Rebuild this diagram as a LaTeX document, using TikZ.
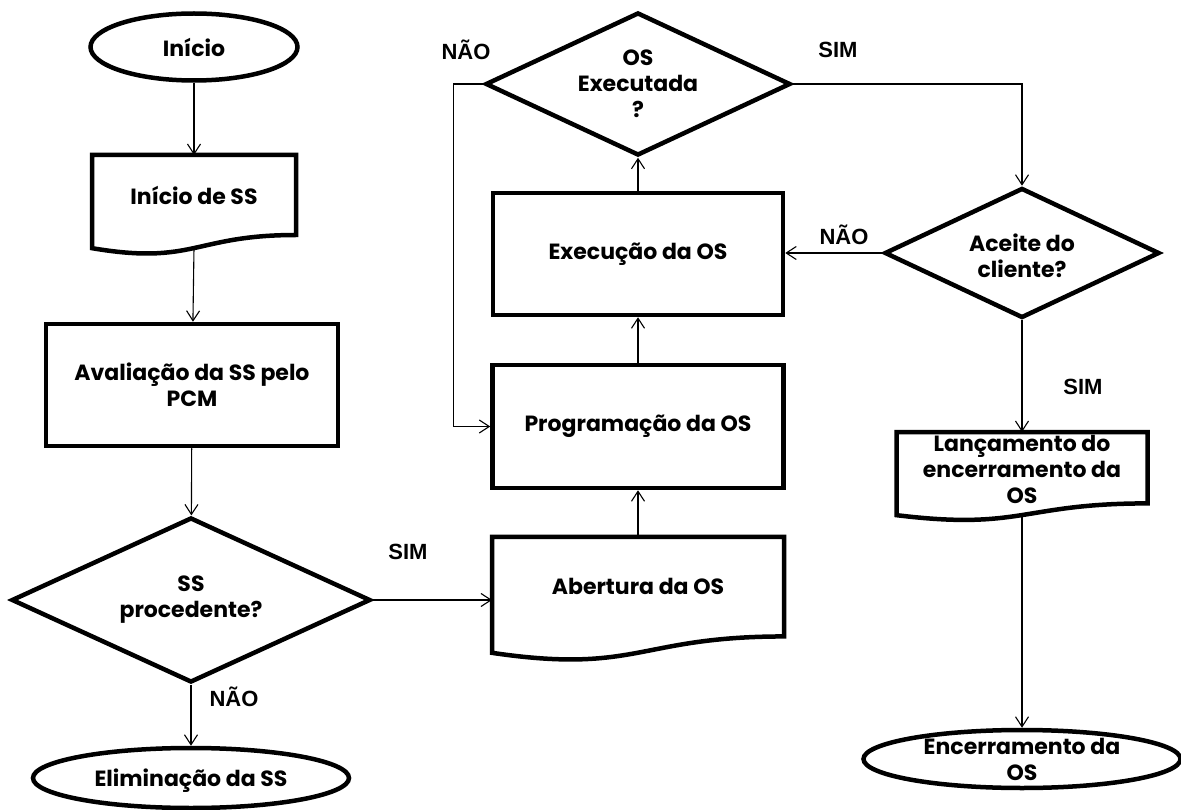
\documentclass[tikz,border=0pt]{standalone}
\usepackage{fontspec}
\setmainfont{Poppins}
\newfontfamily\branchfont{Liberation Sans}
\usetikzlibrary{shapes.geometric,arrows.meta,calc}

% outline of a flowchart "document" symbol drawn around a docbox node
\newcommand\docoutline[1]{%
  \draw[docline] (#1.north west) -- (#1.north east) -- (#1.south east)
    .. controls (#1.south) and ($(#1.north)!1.381!(#1.south)$)
    .. ($(#1.north west)!1.1646!(#1.south west)$) -- cycle;}

\begin{document}
\begin{tikzpicture}[x=1pt,y=-1pt,
  shape line/.style={line width=4.5pt},
  term/.style={ellipse, draw, shape line, inner sep=0pt},
  proc/.style={rectangle, draw, shape line, inner sep=0pt},
  decision/.style={diamond, draw, shape line, inner sep=0pt},
  docbox/.style={rectangle, draw=none, inner sep=0pt, outer sep=0pt},
  docline/.style={shape line, line join=miter},
  txt/.style={align=center, inner sep=0pt, font=\bfseries\fontsize{22}{26}\selectfont},
  branch/.style={inner sep=0pt, font=\branchfont\bfseries\fontsize{22}{26}\selectfont},
  flow/.style={line width=1.1pt, -{Straight Barb[length=10pt,width=13pt]}}
]
\fill[white] (0,0) rectangle (1181,810);
\useasboundingbox (0,0) rectangle (1181,810);

% shapes
\node[term, minimum width=207pt, minimum height=67pt] (ini) at (194,47) {};
\node[docbox, minimum width=204pt, minimum height=80pt] (ss) at (194,195) {};
\node[proc, minimum width=292pt, minimum height=122pt] (aval) at (192,385) {};
\node[decision, minimum width=359pt, minimum height=165pt] (dec1) at (191,600) {};
\node[term, minimum width=316pt, minimum height=60pt] (elim) at (191,778) {};
\node[docbox, minimum width=292pt, minimum height=99.5pt] (abert) at (638,586.7) {};
\node[proc, minimum width=291pt, minimum height=123pt] (prog) at (638,426.5) {};
\node[proc, minimum width=290pt, minimum height=122pt] (exec) at (638,254) {};
\node[decision, minimum width=305pt, minimum height=143pt] (dec2) at (638,84) {};
\node[decision, minimum width=275pt, minimum height=130pt] (dec3) at (1022,253) {};
\node[docbox, minimum width=251pt, minimum height=71.4pt] (lanc) at (1022,467.7) {};
\node[term, minimum width=317pt, minimum height=58pt] (enc) at (1022,759) {};

\docoutline{ss}
\docoutline{abert}
\docoutline{lanc}

% texts
\node[txt] (ini-t) at (ini) {Início};
\node[txt] (ss-t) at (ss) {Início de SS};
\node[txt] (aval-t) at (aval) {Avaliação da SS pelo\\PCM};
\node[txt] (dec1-t) at (dec1) {SS\\procedente?};
\node[txt] (elim-t) at ($(elim)+(0,3)$) {Eliminação da SS};
\node[txt] (abert-t) at (abert) {Abertura da OS};
\node[txt] (prog-t) at (prog) {Programação da OS};
\node[txt] (exec-t) at (exec) {Execução da OS};
\node[txt] (dec2-t) at (dec2) {OS\\Executada\\?};
\node[txt] (dec3-t) at ($(dec3)+(0,3)$) {Aceite do\\cliente?};
\node[txt] (lanc-t) at ($(lanc)+(0,2)$) {Lançamento do\\encerramento da\\OS};
\node[txt] (enc-t) at (enc) {Encerramento da\\OS};

% branch labels
\node[branch] (no1) at (234,697) {NÃO};
\node[branch] (yes1) at (408,552) {SIM};
\node[branch] (no2) at (466,50) {NÃO};
\node[branch] (yes2) at (838,50) {SIM};
\node[branch] (no3) at (844,235) {NÃO};
\node[branch] (yes3) at (1083,387) {SIM};

% connectors
\coordinate (ss-b) at ($(ss.north)!1.1633!(ss.south)$);
\coordinate (lanc-b) at ($(lanc.north)!1.1633!(lanc.south)$);
\draw[flow] (ini) -- (ss);
\draw[flow] (ss-b) -- (aval);
\draw[flow] (aval) -- (dec1);
\draw[flow] (dec1) -- (elim);
\draw[flow] (dec1.east) -- (dec1.east -| abert.west);
\draw[flow] (abert) -- (prog);
\draw[flow] (prog) -- (exec);
\draw[flow] (exec) -- (dec2);
\draw[flow] (dec2.west) -- ++(-30,0) |- (prog.west);
\draw[flow] (dec2.east) -| (dec3.north);
\draw[flow] (dec3.west) -- (dec3.west -| exec.east);
\draw[flow] (dec3) -- (lanc);
\draw[flow] (lanc-b) -- (enc);
\end{tikzpicture}
\end{document}
